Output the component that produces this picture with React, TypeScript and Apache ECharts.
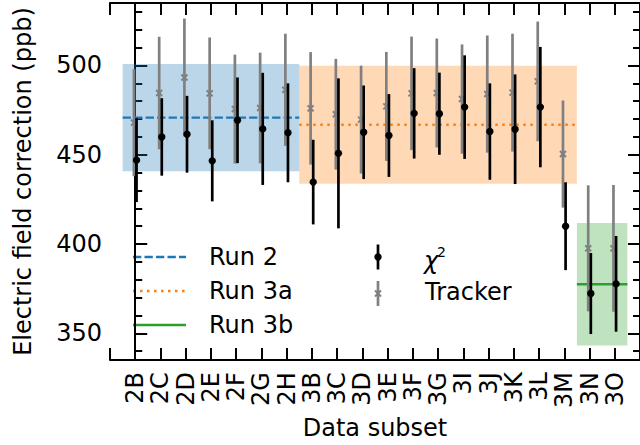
import React, { useEffect, useRef } from 'react';
import * as echarts from 'echarts';

// Data subsets along the x axis
const categories = ['2B', '2C', '2D', '2E', '2F', '2G', '2H', '3B', '3C', '3D', '3E', '3F', '3G', '3I', '3J', '3K', '3L', '3M', '3N', '3O'];

// Chi-square fit results (ppb)
const chi2Values = [447, 460, 461.5, 446.6, 469.3, 464.5, 462.3, 434.7, 450.8, 462.6, 460.8, 473.2, 473, 476.7, 463, 464.3, 476.7, 410, 372.3, 377.7];
const chi2Errors = [23.5, 21.7, 21.5, 22.7, 24, 31.4, 27.7, 23.7, 42, 26.2, 23.2, 25.3, 23, 29, 27, 30.7, 33.7, 24.6, 22.7, 26.8];

// Tracker-based results (ppb)
const trackerValues = [468, 484.6, 493.3, 484.4, 475.6, 476.2, 486.4, 476, 472.7, 469.7, 477.1, 484.4, 484.6, 481.2, 484, 484.8, 491.1, 450.4, 397.6, 397.6];
const trackerErrors = [30, 31.5, 33, 31.3, 30.5, 31, 31.4, 31.5, 31, 30.2, 30.5, 31.8, 30.5, 30.6, 32.8, 33, 33.5, 30, 35.3, 35.5];

// Run averages and their uncertainty bands
const runNames = ['Run 2', 'Run 3a', 'Run 3b'];
const runFirstSubset = ['2B', '3B', '3N'];
const runLastSubset = ['2H', '3M', '3O'];
const runMeans = [470.8, 466.8, 377.5];
const runHalfWidths = [30, 33, 34.3];

// Y axis tick labels
const yTickLabels = [350, 400, 450, 500];

const FONT = 'DejaVu Sans';
const runColors = ['#1f77b4', '#ff7f0e', '#2ca02c'];
const runFills = ['rgba(31,119,180,0.3)', 'rgba(255,127,14,0.3)', 'rgba(44,160,44,0.3)'];
const runDashes: any[] = [[8.3, 3.2], [2.5, 4.5], 'solid'];
const GRAY = '#808080';

const Y_MIN = 335;
const Y_MAX = 535;

const runStart = runFirstSubset.map((c) => categories.indexOf(c) - 0.5);
const runEnd = runLastSubset.map((c) => categories.indexOf(c) + 0.5);

const axisLine = { show: true, lineStyle: { color: '#000', width: 2 } };
const majorTick = { show: true, inside: true, length: 12, lineStyle: { color: '#000', width: 2 } };
const minorTickStyle = { show: true, inside: true, length: 7, lineStyle: { color: '#000', width: 2 } };
const textStyle = { color: '#000', fontFamily: FONT, fontSize: 24 };

function xAxisDef(position: 'top' | 'bottom', withLabels: boolean): any {
  return {
    type: 'value',
    min: -1,
    max: 20,
    interval: 1,
    position,
    axisLine,
    axisTick: majorTick,
    splitLine: { show: false },
    axisLabel: withLabels
      ? {
          ...textStyle,
          rotate: 90,
          margin: 12,
          formatter: (v: number) => categories[v] ?? '',
        }
      : { show: false },
    ...(withLabels
      ? {
          name: 'Data subset',
          nameLocation: 'middle',
          nameGap: 47,
          nameTextStyle: textStyle,
        }
      : {}),
  };
}

function yAxisDef(position: 'left' | 'right', major: boolean, withLabels: boolean): any {
  const step = major ? 50 : 10;
  return {
    type: 'value',
    min: Y_MIN,
    max: Y_MAX,
    minInterval: step,
    maxInterval: step,
    position,
    axisLine: major ? axisLine : { show: false },
    axisTick: major ? majorTick : minorTickStyle,
    splitLine: { show: false },
    axisLabel: withLabels
      ? {
          ...textStyle,
          margin: 8,
          formatter: (v: number) => (yTickLabels.includes(v) ? String(v) : ''),
        }
      : { show: false },
    ...(withLabels
      ? {
          name: 'Electric field correction (ppb)',
          nameLocation: 'middle',
          nameGap: 75,
          nameTextStyle: textStyle,
        }
      : {}),
  };
}

function errorBarSeries(name: string, values: number[], errors: number[], color: string, dx: number, marker: 'dot' | 'cross', z: number): any {
  return {
    name,
    type: 'custom',
    xAxisIndex: 0,
    yAxisIndex: 0,
    z,
    silent: true,
    data: values.map((v, i) => [i, v, errors[i]]),
    encode: { x: 0, y: 1 },
    renderItem: (_params: any, api: any) => {
      const x = api.value(0);
      const y = api.value(1);
      const e = api.value(2);
      const c = api.coord([x, y]);
      const top = api.coord([x, y + e]);
      const bot = api.coord([x, y - e]);
      const px = c[0] + dx;
      const children: any[] = [
        {
          type: 'line',
          shape: { x1: px, y1: top[1], x2: px, y2: bot[1] },
          style: { stroke: color, lineWidth: 2.7 },
        },
      ];
      if (marker === 'dot') {
        children.push({ type: 'circle', shape: { cx: px, cy: c[1], r: 3.7 }, style: { fill: color } });
      } else {
        const s = 3;
        children.push(
          { type: 'line', shape: { x1: px - s, y1: c[1] - s, x2: px + s, y2: c[1] + s }, style: { stroke: color, lineWidth: 2 } },
          { type: 'line', shape: { x1: px - s, y1: c[1] + s, x2: px + s, y2: c[1] - s }, style: { stroke: color, lineWidth: 2 } }
        );
      }
      return { type: 'group', children };
    },
  };
}

function buildOption(): any {
  const bandSeries = {
    type: 'custom',
    z: 1,
    silent: true,
    data: runNames.map((_, k) => [runStart[k], runEnd[k], runMeans[k], runHalfWidths[k]]),
    encode: { x: [0, 1], y: 2 },
    renderItem: (params: any, api: any) => {
      const a = api.coord([api.value(0), api.value(2) + api.value(3)]);
      const b = api.coord([api.value(1), api.value(2) - api.value(3)]);
      return {
        type: 'rect',
        shape: { x: a[0], y: a[1], width: b[0] - a[0], height: b[1] - a[1] },
        style: { fill: runFills[params.dataIndex] },
      };
    },
  };

  const meanSeries = runNames.map((name, k) => ({
    name,
    type: 'line',
    z: 2,
    silent: true,
    symbol: 'none',
    data: [
      [runStart[k], runMeans[k]],
      [runEnd[k], runMeans[k]],
    ],
    lineStyle: { color: runColors[k], width: 2.4, type: runDashes[k], cap: 'butt' },
  }));

  // Legend drawn as graphic elements
  const legendRows = [257, 291, 325];
  const legendGraphics: any[] = [];
  runNames.forEach((name, k) => {
    legendGraphics.push({
      type: 'line',
      shape: { x1: 133, y1: legendRows[k], x2: 186, y2: legendRows[k] },
      style: {
        stroke: runColors[k],
        lineWidth: 2.4,
        lineDash: runDashes[k] === 'solid' ? null : runDashes[k],
        lineCap: 'butt',
      },
    });
    legendGraphics.push({
      type: 'text',
      x: 209,
      y: legendRows[k],
      style: { text: name, fill: '#000', fontFamily: FONT, fontSize: 24, verticalAlign: 'middle', align: 'left' },
    });
  });
  // chi-square legend entry
  legendGraphics.push(
    { type: 'line', shape: { x1: 378, y1: 244.5, x2: 378, y2: 269.5 }, style: { stroke: '#000', lineWidth: 2.7 } },
    { type: 'circle', shape: { cx: 378, cy: 257, r: 3.7 }, style: { fill: '#000' } },
    {
      type: 'text',
      x: 424,
      y: 261,
      style: { text: 'χ', fill: '#000', fontFamily: FONT, fontSize: 24, fontStyle: 'italic', verticalAlign: 'middle', align: 'left' },
    },
    {
      type: 'text',
      x: 437,
      y: 252,
      style: { text: '2', fill: '#000', fontFamily: FONT, fontSize: 14, verticalAlign: 'middle', align: 'left' },
    }
  );
  // tracker legend entry
  legendGraphics.push(
    { type: 'line', shape: { x1: 378, y1: 281, x2: 378, y2: 306 }, style: { stroke: GRAY, lineWidth: 2.7 } },
    { type: 'line', shape: { x1: 375, y1: 290.5, x2: 381, y2: 296.5 }, style: { stroke: GRAY, lineWidth: 2 } },
    { type: 'line', shape: { x1: 375, y1: 296.5, x2: 381, y2: 290.5 }, style: { stroke: GRAY, lineWidth: 2 } },
    {
      type: 'text',
      x: 425,
      y: 292,
      style: { text: 'Tracker', fill: '#000', fontFamily: FONT, fontSize: 24, verticalAlign: 'middle', align: 'left' },
    }
  );

  return {
    animation: false,
    backgroundColor: '#fff',
    textStyle: { fontFamily: FONT },
    grid: { left: 110, right: -3, top: 3, bottom: 83, containLabel: false },
    xAxis: [xAxisDef('bottom', true), xAxisDef('top', false)],
    yAxis: [
      yAxisDef('left', true, true),
      yAxisDef('left', false, false),
      yAxisDef('right', true, false),
      yAxisDef('right', false, false),
    ],
    series: [
      bandSeries,
      ...meanSeries,
      errorBarSeries('Tracker', trackerValues, trackerErrors, GRAY, -1.3, 'cross', 3),
      errorBarSeries('χ²', chi2Values, chi2Errors, '#000', 1.3, 'dot', 4),
    ],
    graphic: { elements: legendGraphics },
  };
}

export default function App() {
  const ref = useRef<HTMLDivElement>(null);
  useEffect(() => {
    if (!ref.current) return;
    const chart = echarts.init(ref.current, null, { renderer: 'svg' });
    chart.setOption(buildOption());
    return () => chart.dispose();
  }, []);
  return <div ref={ref} style={{ position: 'fixed', left: 0, top: 0, width: 640, height: 445 }} />;
}
